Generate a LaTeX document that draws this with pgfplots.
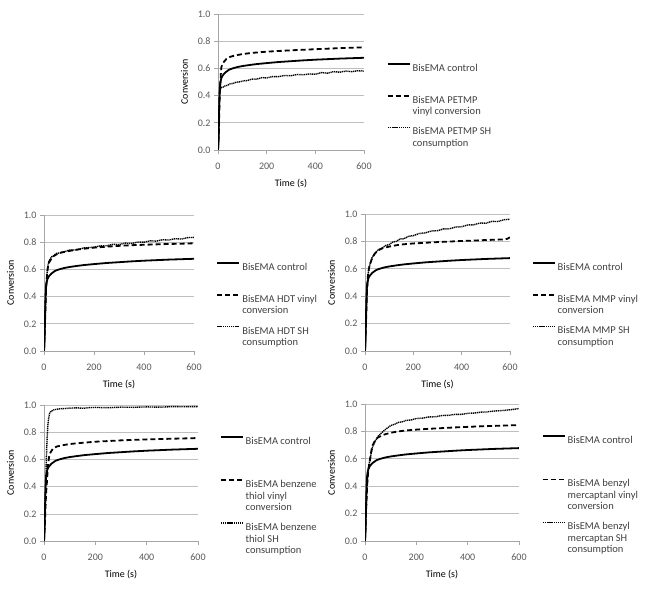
\documentclass[border=0pt]{standalone}
\usepackage{fontspec}
\setmainfont{Carlito}
\usepackage{pgfplots}
\pgfplotsset{compat=1.18}
\usepackage{pgfplotstable}
\definecolor{tickgray}{HTML}{595959}
\definecolor{gridgray}{HTML}{BFBFBF}
\definecolor{axgray}{HTML}{A6A6A6}
\definecolor{labgray}{HTML}{404040}

\pgfplotstableread{
t c
0 0
2 0.05
4 0.25
6 0.40
8 0.47
10 0.50
14 0.53
20 0.55
30 0.57
45 0.59
60 0.60
80 0.61
100 0.617
130 0.625
160 0.632
200 0.639
250 0.647
300 0.653
350 0.659
400 0.664
450 0.668
500 0.672
550 0.675
600 0.678
}\control

\pgfplotsset{
  legend image code/.code={\path (0pt,3.9pt); \draw[#1] (0pt,0pt) -- (22pt,0pt);},
  solidline/.style={black, line width=1.8pt},
  dashline/.style={black, line width=1.8pt, dash pattern=on 5pt off 3pt},
  dotline/.style={black, line width=1.4pt, dash pattern=on 1.2pt off 0.7pt},
  panel/.style={
    scale only axis, anchor=south west,
    xmin=0, xmax=600, ymin=0, ymax=1,
    axis x line*=bottom, axis y line*=left,
    axis line style={axgray, line width=0.6pt},
    ymajorgrids, grid style={gridgray, line width=0.6pt},
    xtick={0,200,400,600}, ytick={0,0.2,0.4,0.6,0.8,1},
    tick align=outside, major tick length=4pt,
    tick style={axgray, line width=0.6pt},
    yticklabel style={/pgf/number format/.cd, fixed, fixed zerofill, precision=1},
    xticklabel style={yshift=-5pt},
    /pgf/number format/assume math mode=true,
    tick label style={font=\fontsize{10}{12}\selectfont, text=tickgray},
    xlabel={Time (s)}, ylabel={Conversion},
    label style={font=\fontsize{10.5}{12}\selectfont\bfseries, text=labgray},
    every axis x label/.style={at={(axis description cs:0.5,0)}, anchor=center, yshift=-33.5pt},
    every axis y label/.style={at={(axis description cs:0,0.5)}, anchor=center, xshift=-33.5pt, rotate=90},
    legend style={draw=none, fill=none, inner sep=0pt, row sep=0pt, column sep=2pt,
      font=\fontsize{10.5}{11.4}\selectfont, cells={anchor=north west}, anchor=north west,
      nodes={inner sep=0pt, text=labgray, text height=7.3pt, text depth=19.6pt}},
  },
  tallleg/.style={legend style={nodes={text depth=30.8pt}}},
}

\begin{document}
\begin{tikzpicture}
\useasboundingbox (0pt,0pt) rectangle (645pt,589pt);

% ---------- Top: PETMP ----------
\begin{axis}[panel, at={(218pt,439pt)}, width=146pt, height=136pt,
  legend style={at={(axis description cs:1.155,0.671)}}]
\addplot[solidline] table[x=t,y=c] {\control};
\addlegendentry{\parbox[t]{95pt}{\raggedright BisEMA control}}
\addplot[dashline] table {
0 0
3 0.1
6 0.35
8 0.45
10 0.50
12 0.57
14 0.61
18 0.63
25 0.65
35 0.67
50 0.685
70 0.695
100 0.705
140 0.714
200 0.723
250 0.728
300 0.733
350 0.737
400 0.741
450 0.745
500 0.749
550 0.752
600 0.755
};
\addlegendentry{\parbox[t]{95pt}{\raggedright BisEMA PETMP\\vinyl conversion}}
\addplot[dotline] table {
0 0
3 0.1
6 0.35
8 0.44
12 0.46
20 0.462
30 0.472
40 0.476
50 0.487
60 0.488
75 0.499
90 0.501
100 0.507
120 0.511
140 0.521
160 0.521
180 0.532
200 0.530
225 0.540
250 0.540
275 0.548
300 0.546
325 0.555
350 0.553
375 0.559
400 0.557
425 0.569
450 0.565
475 0.576
500 0.572
525 0.580
550 0.576
575 0.583
600 0.580
};
\addlegendentry{\parbox[t]{95pt}{\raggedright BisEMA PETMP SH\\consumption}}
\end{axis}

% ---------- Middle left: HDT ----------
\begin{axis}[panel, at={(44pt,238pt)}, width=150pt, height=136pt,
  legend style={at={(axis description cs:1.149,0.683)}}]
\addplot[solidline] table[x=t,y=c] {\control};
\addlegendentry{\parbox[t]{95pt}{\raggedright BisEMA control}}
\addplot[dashline] table {
0 0
4 0.2
8 0.45
12 0.56
16 0.62
20 0.65
30 0.68
40 0.70
50 0.71
70 0.725
100 0.735
130 0.745
160 0.752
200 0.760
250 0.767
300 0.773
350 0.778
400 0.781
450 0.784
500 0.787
550 0.789
600 0.792
};
\addlegendentry{\parbox[t]{95pt}{\raggedright BisEMA HDT vinyl\\conversion}}
\addplot[dotline] table {
0 0
4 0.2
8 0.45
12 0.57
16 0.63
20 0.66
30 0.692
40 0.702
50 0.718
70 0.722
100 0.741
130 0.744
160 0.758
200 0.763
225 0.773
250 0.774
275 0.784
300 0.783
325 0.793
350 0.791
375 0.801
400 0.800
425 0.810
450 0.808
475 0.818
500 0.816
525 0.826
550 0.823
575 0.834
600 0.835
};
\addlegendentry{\parbox[t]{95pt}{\raggedright BisEMA HDT SH\\consumption}}
\end{axis}

% ---------- Middle right: MMP ----------
\begin{axis}[panel, at={(365pt,238pt)}, width=145pt, height=137pt,
  legend style={at={(axis description cs:1.15,0.68)}}]
\addplot[solidline] table[x=t,y=c] {\control};
\addlegendentry{\parbox[t]{95pt}{\raggedright BisEMA control}}
\addplot[dashline] table {
0 0
4 0.2
8 0.42
12 0.55
16 0.60
20 0.63
30 0.68
40 0.71
55 0.735
70 0.748
100 0.762
130 0.772
160 0.779
200 0.785
250 0.790
300 0.795
350 0.799
400 0.803
450 0.806
500 0.810
550 0.813
580 0.815
590 0.820
600 0.830
};
\addlegendentry{\parbox[t]{95pt}{\raggedright BisEMA MMP vinyl\\conversion}}
\addplot[dotline] table {
0 0
4 0.2
8 0.42
12 0.55
16 0.60
20 0.63
30 0.685
40 0.708
55 0.740
70 0.750
85 0.770
100 0.777
115 0.795
130 0.800
145 0.818
160 0.819
180 0.837
200 0.842
225 0.858
250 0.862
275 0.876
300 0.878
325 0.891
350 0.892
375 0.905
400 0.907
425 0.920
450 0.921
475 0.934
500 0.933
525 0.946
550 0.945
575 0.958
600 0.962
};
\addlegendentry{\parbox[t]{95pt}{\raggedright BisEMA MMP SH\\consumption}}
\end{axis}

% ---------- Bottom left: benzene thiol ----------
\begin{axis}[panel, tallleg, at={(44pt,48pt)}, width=154pt, height=136pt,
  legend style={at={(axis description cs:1.141,0.80)}}]
\addplot[solidline] table[x=t,y=c] {\control};
\addlegendentry{\parbox[t]{95pt}{\raggedright BisEMA control}}
\addplot[dashline] table {
0 0
4 0.15
8 0.35
12 0.45
15 0.55
17 0.58
20 0.62
25 0.65
35 0.68
50 0.695
75 0.705
100 0.713
150 0.722
200 0.730
300 0.740
400 0.747
500 0.752
600 0.757
};
\addlegendentry{\parbox[t]{95pt}{\raggedright BisEMA benzene\\thiol vinyl\\conversion}}
\addplot[dotline] table {
0 0
3 0.15
6 0.35
9 0.60
12 0.75
15 0.85
18 0.90
22 0.94
28 0.955
40 0.965
60 0.972
80 0.974
100 0.977
130 0.979
150 0.976
180 0.981
200 0.982
250 0.980
300 0.984
350 0.983
400 0.986
450 0.984
500 0.988
550 0.987
600 0.988
};
\addlegendentry{\parbox[t]{95pt}{\raggedright BisEMA benzene\\thiol SH\\consumption}}
\end{axis}

% ---------- Bottom right: benzyl mercaptan ----------
\begin{axis}[panel, tallleg, at={(365pt,48pt)}, width=154pt, height=137pt,
  legend style={at={(axis description cs:1.147,0.80)}}]
\addplot[solidline] table[x=t,y=c] {\control};
\addlegendentry{\parbox[t]{95pt}{\raggedright BisEMA control}}
\addplot[dashline] table {
0 0
4 0.2
8 0.40
12 0.50
16 0.56
20 0.60
25 0.66
30 0.70
40 0.735
50 0.755
65 0.770
80 0.780
100 0.790
130 0.800
160 0.807
200 0.813
250 0.819
300 0.824
350 0.829
400 0.833
450 0.837
500 0.840
550 0.843
600 0.846
};
\addlegendentry{\parbox[t]{95pt}{\raggedright BisEMA benzyl\\mercaptanl vinyl\\conversion}}
\addplot[dotline] table {
0 0
4 0.2
8 0.40
12 0.50
16 0.56
20 0.60
25 0.65
30 0.69
40 0.73
50 0.762
65 0.790
80 0.815
100 0.843
115 0.852
130 0.866
145 0.870
160 0.880
180 0.884
200 0.894
225 0.897
250 0.906
275 0.907
300 0.916
325 0.917
350 0.924
375 0.924
400 0.932
425 0.934
450 0.940
475 0.942
500 0.948
525 0.951
550 0.955
575 0.960
600 0.967
};
\addlegendentry{\parbox[t]{95pt}{\raggedright BisEMA benzyl\\mercaptan SH\\consumption}}
\end{axis}
\end{tikzpicture}
\end{document}
